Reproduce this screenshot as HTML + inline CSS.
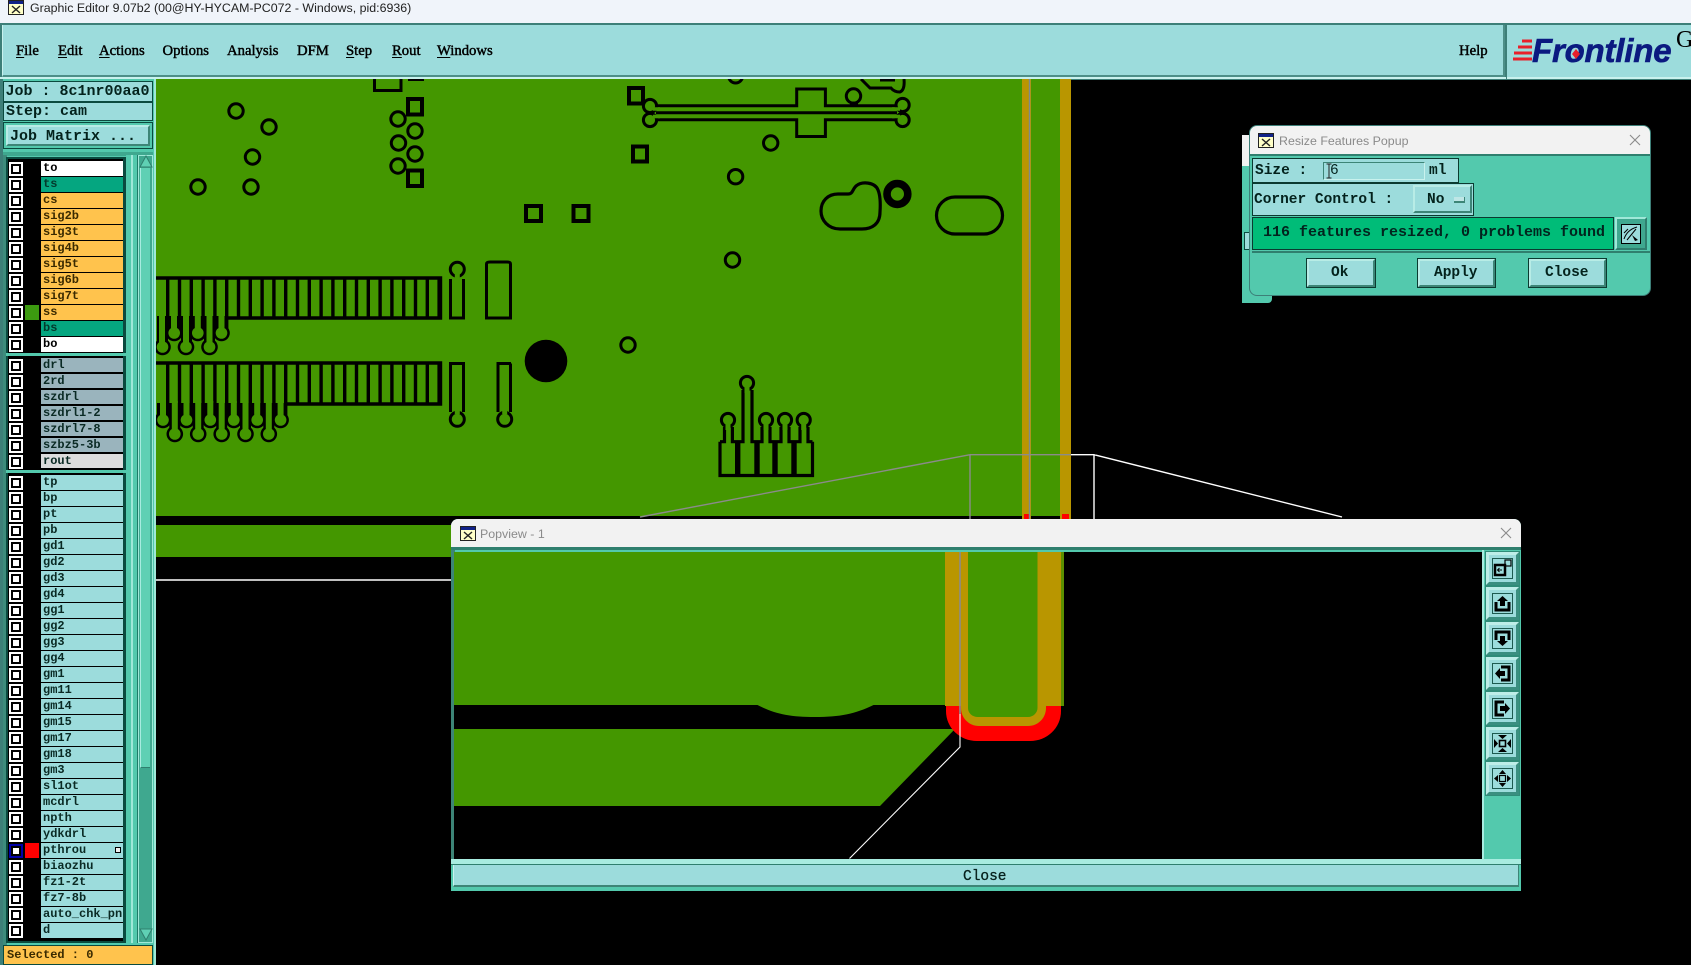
<!DOCTYPE html>
<html><head><meta charset="utf-8"><title>Graphic Editor</title>
<style>
html,body{margin:0;padding:0;background:#000;width:1691px;height:965px;overflow:hidden}
#w{position:relative;width:1691px;height:965px;overflow:hidden;background:#000;font-family:"Liberation Mono",monospace;color:#06201c}
#w div,#w span,#w svg{position:absolute;box-sizing:border-box}
.m{font:14.7px "Liberation Serif",serif;-webkit-text-stroke:.45px #000;color:#000;top:42px;line-height:18px;white-space:nowrap}
.m u{text-underline-offset:2px}
.ui{font:400 12.5px "Liberation Sans",sans-serif;white-space:nowrap}
.mono{font:700 15px/18px "Liberation Mono",monospace;white-space:nowrap;color:#03221c}
.mono2{font:700 14.5px/18px "Liberation Mono",monospace;white-space:nowrap;color:#03221c}
.bev{background:#9cdcdc;border:2px solid;border-color:#b8ece6 #3d8577 #3d8577 #b8ece6}
.r{left:8px;width:115px;height:16px;background:#000}
.r i{position:absolute;left:1px;top:1px;width:14px;height:14px;background:#fff;display:block}
.r i:before{content:"";position:absolute;left:2px;top:2px;width:10px;height:10px;box-sizing:border-box;border:2px solid #000;background:#fff}
.r b{position:absolute;box-sizing:border-box;left:33px;top:0;width:82px;height:14.6px;font:700 12px/14.6px "Liberation Mono",monospace;padding-left:2px;color:#0a2a24;background:#9cdcdc;overflow:hidden;white-space:nowrap}
.o{background:#ffc34d!important;color:#3a2a00!important}
.t{background:#05a680!important;color:#033a2c!important}
.wh{background:#fff!important;color:#000!important}
.g{background:#9ab4bd!important}
.pb{left:1486px;width:33px;height:33px;border:3px solid;border-color:#bdeee8 #3a8f80 #3a8f80 #bdeee8;background:#9cdcdc;outline:1px solid #2f8c78}
.pb:after{content:"";position:absolute;left:3px;top:3px;width:21px;height:21px;box-sizing:border-box;border:1px solid #1d5a50}
</style></head><body><div id="w">

<!-- title bar -->
<div style="left:0;top:0;width:1691px;height:24px;background:#f0f4fa"></div>
<svg style="left:8px;top:0" width="16" height="15"><rect x=".5" y=".5" width="15" height="14" fill="#ffffc8" stroke="#222"/><rect x="1" y="1" width="14" height="3" fill="#112288"/><path d="M4 6l8 7M12 6l-8 7" stroke="#222" stroke-width="1.4"/></svg>
<div class="ui" style="left:30px;top:0;height:16px;line-height:16px;color:#222;font-size:12.4px">Graphic Editor 9.07b2 (00@HY-HYCAM-PC072 - Windows, pid:6936)</div>

<!-- menu bar -->
<div style="left:0;top:23px;width:1691px;height:57px;background:#3d7f78"></div>
<div style="left:2px;top:25px;width:1503px;height:52px;background:#9cdcdc;border-left:1px solid #c9f2ee;border-right:2px solid #4d8f88;border-bottom:2px solid #4d8f88"></div>
<div style="left:1507px;top:25px;width:184px;height:54px;background:#9cdcdc;border-bottom:2px solid #c9f2ee"></div>
<div style="left:0;top:77px;width:1506px;height:2px;background:#c9f2ee"></div>
<div class="m" style="left:16px"><u>F</u>ile</div>
<div class="m" style="left:58px"><u>E</u>dit</div>
<div class="m" style="left:99px"><u>A</u>ctions</div>
<div class="m" style="left:162.5px">Options</div>
<div class="m" style="left:227px">Analysis</div>
<div class="m" style="left:297px">DFM</div>
<div class="m" style="left:346px"><u>S</u>tep</div>
<div class="m" style="left:392px"><u>R</u>out</div>
<div class="m" style="left:437px"><u>W</u>indows</div>
<div class="m" style="left:1459px">Help</div>
<svg style="left:1510px;top:36px" width="30" height="30"><path d="M12 5h10M8 11h14M4 17h18M3 23h19" stroke="#e8202a" stroke-width="3"/></svg>
<div style="left:1532px;top:31px;font:italic 700 33px/40px 'Liberation Sans',sans-serif;color:#0b1a80;-webkit-text-stroke:.6px #0b1a80;white-space:nowrap;letter-spacing:-.2px">Frontline</div>
<svg style="left:1570px;top:48px" width="12" height="12"><path d="M6 1l4 5-4 5-4-5z" fill="#e8202a"/></svg>
<div style="left:1676px;top:25px;font:24px/30px 'Liberation Serif',serif;color:#000">G</div>

<!-- PCB -->
<svg style="left:156px;top:79px" width="1300" height="520" viewBox="156 79 1300 520">
<rect x="156" y="79" width="915" height="437" fill="#449700"/>
<rect x="156" y="525" width="300" height="32" fill="#449700"/>
<rect x="1022" y="79" width="9" height="440" fill="#b99600"/>
<rect x="1060" y="79" width="11" height="440" fill="#b99600"/>
<rect x="1024" y="514" width="6" height="6" fill="#f00"/><rect x="1062" y="514" width="7" height="6" fill="#f00"/>
<path d="M1029.5 79V520" stroke="#7b8a90" stroke-width="1.4"/>
<path d="M156 580H452" stroke="#fff" stroke-width="1.5"/>
<g fill="none" stroke="#000" stroke-width="3">
<circle cx="236" cy="111" r="7.2"/><circle cx="269" cy="127" r="7.2"/><circle cx="252.5" cy="157" r="7.2"/><circle cx="198" cy="187" r="7.2"/><circle cx="251" cy="187" r="7.2"/>
<circle cx="398" cy="119" r="7.2"/><circle cx="415" cy="131" r="7.2"/><circle cx="398.5" cy="143" r="7.2"/><circle cx="415" cy="154" r="7.2"/><circle cx="398" cy="166" r="7.2"/>
<circle cx="770.7" cy="143" r="7.2"/><circle cx="735.6" cy="176.7" r="7.2"/><circle cx="732.5" cy="260" r="7.2"/><circle cx="628" cy="345" r="7.2"/><circle cx="853.5" cy="96" r="7.2"/><circle cx="735.6" cy="76" r="7"/>
<path stroke-width="3" d="M374.5 79V90.5H401V79M408 79.5H424"/>
<g stroke-width="4"><rect x="408" y="99" width="14" height="15.5"/><rect x="408" y="170.5" width="14" height="15.5"/><rect x="526" y="206" width="15" height="15"/><rect x="573.5" y="206" width="15" height="15"/><rect x="633" y="146.5" width="14" height="15"/><rect x="629" y="88" width="14" height="15.5"/></g>
<circle cx="897.4" cy="194" r="10.4" stroke-width="7.6"/>
<rect x="936.5" y="197" width="66" height="37" rx="18.5" stroke-width="3.2"/>
<path stroke-width="3.2" d="M838 194H848C853 194 852 190 856 186C862 181 875 182 878 190Q881 197 880 212C880 224 872 229 862 229H840C828 229 821 220 821 211C821 201 828 194 838 194Z"/>
<path stroke-width="3" d="M657 105.7H796.7V89H825.4V105.7H895.6M656 112.7H897M657 119.7H796.7V136.5H825.4V119.7H895.6"/>
<g stroke-width="3"><circle cx="650" cy="106" r="6.6"/><circle cx="650" cy="120" r="6.6"/><circle cx="902.6" cy="105" r="6.6"/><circle cx="902.6" cy="120" r="6.6"/></g>
<path stroke="#449700" stroke-width="3.6" d="M653 109H660M653 116.5H660M892 109H900M892 116.5H900"/>
<path stroke-width="3" d="M861 79L870 88H891Q894 92 900 92Q905 90 904 79M880 80H895"/>
<path stroke-width="4" d="M850 103.5H858"/>

<!-- connectors -->
<path stroke-width="3.4" d="M156 278H440.5V318H226.7M167.7 278V317M179.5 278V317M191.3 278V317M203.1 278V317M214.9 278V317M226.7 278V329M238.5 278V317M250.3 278V317M262.1 278V317M273.9 278V317M285.7 278V317M297.5 278V317M309.3 278V317M321.1 278V317M332.9 278V317M344.7 278V317M356.5 278V317M368.3 278V317M380.1 278V317M391.9 278V317M403.7 278V317M415.5 278V317M427.3 278V317M439.1 278V317"/>
<path stroke-width="3.4" d="M156 363H440.5V404H285M167.7 363V404M179.5 363V404M191.3 363V404M203.1 363V404M214.9 363V404M226.7 363V404M238.5 363V404M250.3 363V404M262.1 363V404M273.9 363V404M285.7 363V415M297.5 363V404M309.3 363V404M321.1 363V404M332.9 363V404M344.7 363V404M356.5 363V404M368.3 363V404M380.1 363V404M391.9 363V404M403.7 363V404M415.5 363V404M427.3 363V404M439.1 363V404"/>
</g>
<!-- fan-out pads: black mass, then green traces -->
<g fill="#000" stroke="none">
<rect x="157" y="316" width="71" height="13"/><rect x="157" y="403" width="130" height="12"/>
<rect x="157" y="316" width="11" height="31"/><rect x="181" y="316" width="11" height="31"/><rect x="204" y="316" width="11" height="31"/>
<circle cx="162.5" cy="347" r="8.3"/><circle cx="186" cy="347" r="8.3"/><circle cx="209.5" cy="347" r="8.3"/><circle cx="174.2" cy="333" r="8.3"/><circle cx="197.8" cy="333" r="8.3"/><circle cx="221.5" cy="333" r="8.3"/>
<rect x="169.3" y="403" width="11" height="31"/><rect x="192.7" y="403" width="11" height="31"/><rect x="216.2" y="403" width="11" height="31"/><rect x="240" y="403" width="11" height="31"/><rect x="263.3" y="403" width="11" height="31"/>
<circle cx="163" cy="420" r="8.3"/><circle cx="186.5" cy="420" r="8.3"/><circle cx="210.3" cy="420" r="8.3"/><circle cx="233.8" cy="420" r="8.3"/><circle cx="257.2" cy="420" r="8.3"/><circle cx="280.6" cy="420" r="8.3"/>
<circle cx="174.8" cy="434" r="8.3"/><circle cx="198.2" cy="434" r="8.3"/><circle cx="221.7" cy="434" r="8.3"/><circle cx="245.5" cy="434" r="8.3"/><circle cx="268.8" cy="434" r="8.3"/>
</g>
<g fill="#449700" stroke="none">
<rect x="159" y="314" width="6" height="33"/><rect x="183" y="314" width="6" height="33"/><rect x="206.5" y="314" width="6" height="33"/><rect x="171" y="314" width="6" height="19"/><rect x="194.8" y="314" width="6" height="19"/><rect x="218.5" y="314" width="6" height="19"/>
<circle cx="162.5" cy="347" r="5.8"/><circle cx="186" cy="347" r="5.8"/><circle cx="209.5" cy="347" r="5.8"/><circle cx="174.2" cy="333" r="5.8"/><circle cx="197.8" cy="333" r="5.8"/><circle cx="221.5" cy="333" r="5.8"/>
<rect x="160" y="401" width="6" height="19"/><rect x="183.5" y="401" width="6" height="19"/><rect x="207.3" y="401" width="6" height="19"/><rect x="230.8" y="401" width="6" height="19"/><rect x="254.2" y="401" width="6" height="19"/><rect x="277.6" y="401" width="6" height="19"/>
<rect x="171.8" y="401" width="6" height="33"/><rect x="195.2" y="401" width="6" height="33"/><rect x="218.7" y="401" width="6" height="33"/><rect x="242.5" y="401" width="6" height="33"/><rect x="265.8" y="401" width="6" height="33"/>
<circle cx="163" cy="420" r="5.8"/><circle cx="186.5" cy="420" r="5.8"/><circle cx="210.3" cy="420" r="5.8"/><circle cx="233.8" cy="420" r="5.8"/><circle cx="257.2" cy="420" r="5.8"/><circle cx="280.6" cy="420" r="5.8"/>
<circle cx="174.8" cy="434" r="5.8"/><circle cx="198.2" cy="434" r="5.8"/><circle cx="221.7" cy="434" r="5.8"/><circle cx="245.5" cy="434" r="5.8"/><circle cx="268.8" cy="434" r="5.8"/>
</g>
<g fill="none" stroke="#000" stroke-width="3">
<path d="M450.5 318V279M463.5 318V279M449 318H465"/><circle cx="457.3" cy="269.3" r="7"/>
<path d="M486.5 318V264Q486.5 262 490 262H507Q510.5 262 510.5 264V318M485 318H512"/>
<path d="M450.5 403V363.5H463.5V403M496.5 363.5H511M463.5 403V412M498 403V363.5M510.5 363.5V412M450.5 403V412M498 403V412"/>
<circle cx="457.3" cy="419.3" r="7"/><circle cx="504.7" cy="419.3" r="7"/>
<path stroke="#449700" stroke-width="5" d="M457.3 274V281M457.3 405V414M504.7 405V414"/>
<path stroke-width="3.2" d="M720 441.7V475.5H812.5V441.7M720 441.7H724.5V427M732.4 427V441.7H743V390M752 390V441.7H762V427M770 427V441.7H781V427M789 427V441.7H800V427M808 427V441.7H812.5"/>
<path stroke-width="5.4" d="M737.7 441V476M757 441V476M775 441V476M794 441V476"/>
<circle cx="728" cy="420" r="6.6"/><circle cx="747" cy="383" r="6.6"/><circle cx="766" cy="420" r="6.6"/><circle cx="785" cy="420" r="6.6"/><circle cx="803.7" cy="420" r="6.6"/>
<path stroke="#449700" stroke-width="5" d="M728 424V430M747 387V393M766 424V430M785 424V430M803.7 424V430"/>
</g>
<circle cx="546" cy="361" r="21.3" fill="#000"/>
<!-- magnifier guide lines -->
<path d="M640 517L970 454.7V520M970 454.7H1071" stroke="#8b8b8b" stroke-width="1.4" fill="none"/>
<path d="M1071 454.7H1094V520M1094 454.7L1342 517" stroke="#fff" stroke-width="1.4" fill="none"/>
</svg>

<!-- left panel -->
<div style="left:0;top:79px;width:156px;height:886px;background:#53c9ad;border-left:3px solid #3d7f78;border-right:2px solid #9fe8d8"></div>
<div style="left:3px;top:81px;width:150px;height:21px;background:#9cdcdc;border:1.5px solid #0b4a3f"></div>
<div class="mono" style="left:5.5px;top:83px;font-weight:700">Job : 8c1nr00aa0</div>
<div style="left:3px;top:102px;width:150px;height:19px;background:#9cdcdc;border:1.5px solid #0b4a3f"></div>
<div class="mono" style="left:6px;top:102.5px">Step: cam</div>
<div style="left:3px;top:122px;width:150px;height:27px;background:#53c9ad;border:1.5px solid #0b4a3f"></div>
<div class="bev" style="left:6px;top:125px;width:144px;height:21px"></div>
<div class="mono" style="left:10px;top:127.5px">Job Matrix ...</div>

<div style="left:3px;top:152px;width:150px;height:4px;background:#3fa88f"></div>
<div style="left:3px;top:155px;width:4px;height:790px;background:#3d8c7c"></div>
<div style="left:6px;top:157px;width:120px;height:786px;background:#0a4a3f"></div>
<div style="left:8px;top:159px;width:115px;height:782px;background:#000"></div>

<div class="r" style="top:161px"><i></i><b class="wh">to</b></div>
<div class="r" style="top:177px"><i></i><b class="t">ts</b></div>
<div class="r" style="top:193px"><i></i><b class="o">cs</b></div>
<div class="r" style="top:209px"><i></i><b class="o">sig2b</b></div>
<div class="r" style="top:225px"><i></i><b class="o">sig3t</b></div>
<div class="r" style="top:241px"><i></i><b class="o">sig4b</b></div>
<div class="r" style="top:257px"><i></i><b class="o">sig5t</b></div>
<div class="r" style="top:273px"><i></i><b class="o">sig6b</b></div>
<div class="r" style="top:289px"><i></i><b class="o">sig7t</b></div>
<div class="r" style="top:305px"><i></i><span style="left:17px;top:0;width:14px;height:14.6px;background:#3c9a10"></span><b class="o">ss</b></div>
<div class="r" style="top:321px"><i></i><b class="t">bs</b></div>
<div class="r" style="top:337px"><i></i><b class="wh">bo</b></div>
<div style="left:6px;top:353px;width:120px;height:3px;background:#53c9ad"></div>
<div class="r" style="top:357.5px"><i></i><b class="g">drl</b></div>
<div class="r" style="top:373.5px"><i></i><b class="g">2rd</b></div>
<div class="r" style="top:389.5px"><i></i><b class="g">szdrl</b></div>
<div class="r" style="top:405.5px"><i></i><b class="g">szdrl1-2</b></div>
<div class="r" style="top:421.5px"><i></i><b class="g">szdrl7-8</b></div>
<div class="r" style="top:437.5px"><i></i><b class="g">szbz5-3b</b></div>
<div class="r" style="top:453.5px"><i></i><b style="background:#dcdcdc">rout</b></div>
<div style="left:6px;top:470px;width:120px;height:3px;background:#53c9ad"></div>
<div class="r" style="top:475px"><i></i><b>tp</b></div>
<div class="r" style="top:491px"><i></i><b>bp</b></div>
<div class="r" style="top:507px"><i></i><b>pt</b></div>
<div class="r" style="top:523px"><i></i><b>pb</b></div>
<div class="r" style="top:539px"><i></i><b>gd1</b></div>
<div class="r" style="top:555px"><i></i><b>gd2</b></div>
<div class="r" style="top:571px"><i></i><b>gd3</b></div>
<div class="r" style="top:587px"><i></i><b>gd4</b></div>
<div class="r" style="top:603px"><i></i><b>gg1</b></div>
<div class="r" style="top:619px"><i></i><b>gg2</b></div>
<div class="r" style="top:635px"><i></i><b>gg3</b></div>
<div class="r" style="top:651px"><i></i><b>gg4</b></div>
<div class="r" style="top:667px"><i></i><b>gm1</b></div>
<div class="r" style="top:683px"><i></i><b>gm11</b></div>
<div class="r" style="top:699px"><i></i><b>gm14</b></div>
<div class="r" style="top:715px"><i></i><b>gm15</b></div>
<div class="r" style="top:731px"><i></i><b>gm17</b></div>
<div class="r" style="top:747px"><i></i><b>gm18</b></div>
<div class="r" style="top:763px"><i></i><b>gm3</b></div>
<div class="r" style="top:779px"><i></i><b>sl1ot</b></div>
<div class="r" style="top:795px"><i></i><b>mcdrl</b></div>
<div class="r" style="top:811px"><i></i><b>npth</b></div>
<div class="r" style="top:827px"><i></i><b>ydkdrl</b></div>
<div class="r" style="top:843px"><i style="background:#0000a8"></i><span style="left:17px;top:0;width:14px;height:14.6px;background:#f00"></span><b>pthrou<span style="left:74px;top:4px;width:6px;height:6px;border:1px solid #000;background:#eee"></span></b></div>
<div class="r" style="top:859px"><i></i><b>biaozhu</b></div>
<div class="r" style="top:875px"><i></i><b>fz1-2t</b></div>
<div class="r" style="top:891px"><i></i><b>fz7-8b</b></div>
<div class="r" style="top:907px"><i></i><b>auto_chk_pn1</b></div>
<div class="r" style="top:923px"><i></i><b>d</b></div>

<!-- scrollbar -->
<div style="left:126px;top:155px;width:7px;height:788px;background:#53c9ad;border-right:2px solid #9fe8d8"></div>
<div style="left:133px;top:155px;width:5px;height:788px;background:#53c9ad;border-right:1px solid #1f7a68"></div>
<div style="left:138px;top:155px;width:15px;height:788px;background:#3fa88f;border:1px solid #9fe8d8"></div>
<div style="left:140px;top:168px;width:10px;height:600px;background:#5fd0b4;border-bottom:1.5px solid #2f7f6e;border-left:1px solid #a8ece0"></div>
<svg style="left:139px;top:155px" width="14" height="13"><path d="M7 1L13 12H1Z" fill="#5fd0b4" stroke="#2f7f6e"/></svg>
<svg style="left:139px;top:928px" width="14" height="13"><path d="M7 12L13 1H1Z" fill="#5fd0b4" stroke="#2f7f6e"/></svg>

<div style="left:3px;top:945px;width:150px;height:20px;background:#ffc34d;border:1.5px solid #0b4a3f"></div>
<div style="left:7px;top:946px;font:700 12px/18px 'Liberation Mono',monospace;color:#3a2a00">Selected : 0</div>

<!-- Resize popup: sliver behind -->
<div style="left:1242px;top:135px;width:10px;height:31px;background:#f2f2f2"></div>
<div style="left:1242px;top:166px;width:30px;height:137px;background:#53c9ad;border-radius:0 0 4px 0"></div>
<div style="left:1244px;top:232px;width:6px;height:18px;background:#9cdcdc;border:1px solid #0b4a3f"></div>

<!-- Resize popup -->
<div style="left:1250px;top:126px;width:400px;height:169px;background:#53c9ad;border-radius:7px;overflow:hidden;box-shadow:0 0 0 1px #3d7f78">
 <div style="left:0;top:0;width:400px;height:30px;background:#f2f2f2;border-bottom:2px solid #2f7f6e"></div>
</div>
<svg style="left:1258px;top:133px" width="16" height="15"><rect x=".5" y=".5" width="15" height="14" fill="#ffffc8" stroke="#222"/><rect x="1" y="1" width="14" height="3" fill="#112288"/><path d="M4 6l8 7M12 6l-8 7" stroke="#222" stroke-width="1.4"/></svg>
<div class="ui" style="left:1279px;top:132px;line-height:18px;color:#8a8a8a;font-size:12.4px">Resize Features Popup</div>
<svg style="left:1629px;top:134px" width="12" height="12"><path d="M1 1l10 10M11 1L1 11" stroke="#8a8a8a" stroke-width="1.1"/></svg>

<div style="left:1252px;top:158px;width:207px;height:25px;background:#9cdcdc;border:1.5px solid #0b3a30"></div>
<div class="mono2" style="left:1255px;top:162px">Size :</div>
<div style="left:1323px;top:162px;width:102px;height:18px;background:#9cdcdc;border:1.5px solid;border-color:#3d8577 #c9f2ee #c9f2ee #3d8577"></div>
<div class="mono2" style="left:1330px;top:162px;font-weight:400">6</div>
<svg style="left:1325px;top:162px" width="8" height="18"><path d="M1.5 2h5M4 2v14M1.5 16h5" stroke="#222" fill="none" stroke-width="1"/></svg>
<div class="mono2" style="left:1429px;top:162px">ml</div>

<div style="left:1252px;top:183px;width:222px;height:33px;background:#9cdcdc;border:1.5px solid #0b3a30"></div>
<div class="mono2" style="left:1254px;top:191px">Corner Control :</div>
<div class="bev" style="left:1413px;top:185px;width:59px;height:28px"></div>
<div class="mono2" style="left:1427px;top:191px">No</div>
<div style="left:1454px;top:197px;width:11px;height:6px;background:#bfe6e6;border-bottom:2px solid #3d8577;border-right:1px solid #3d8577"></div>

<div style="left:1252px;top:217px;width:362px;height:33px;background:#00bc78;border:1.5px solid #0b3a30"></div>
<div class="mono" style="left:1263px;top:224px;color:#02241e">116 features resized, 0 problems found</div>
<div style="left:1615px;top:217px;width:32px;height:33px;background:#3fa88f;border:2px solid;border-color:#9fe8d8 #2f7f6e #2f7f6e #9fe8d8"></div>
<div style="left:1621px;top:224px;width:20px;height:20px;background:#9cdcdc;border:1.5px solid #000"></div>
<svg style="left:1621px;top:224px" width="20" height="20"><path d="M3 15C5 9 9 5 16 3M6 16L15 5M7 5L3 9" stroke="#000" fill="none"/><path d="M11 11l6 5-3 1z" fill="#000"/></svg>

<div style="left:1252px;top:251px;width:398px;height:2px;background:#2f7f6e"></div>
<div class="bev" style="left:1307px;top:259px;width:68px;height:28px;outline:1.5px solid #0b3a30"></div>
<div class="mono2" style="left:1331px;top:264px">Ok</div>
<div class="bev" style="left:1418px;top:259px;width:77px;height:28px;outline:1.5px solid #0b3a30"></div>
<div class="mono2" style="left:1434px;top:264px">Apply</div>
<div class="bev" style="left:1529px;top:259px;width:77px;height:28px;outline:1.5px solid #0b3a30"></div>
<div class="mono2" style="left:1545px;top:264px">Close</div>

<!-- Popview window -->
<div style="left:451px;top:519px;width:1070px;height:372px;background:#53c9ad;border-radius:7px 7px 3px 3px;overflow:hidden">
 <div style="left:0;top:0;width:1070px;height:31px;background:#f2f2f2;border-bottom:3px solid #2f7f6e"></div>
</div>
<svg style="left:460px;top:526px" width="16" height="15"><rect x=".5" y=".5" width="15" height="14" fill="#ffffc8" stroke="#222"/><rect x="1" y="1" width="14" height="3" fill="#112288"/><path d="M4 6l8 7M12 6l-8 7" stroke="#222" stroke-width="1.4"/></svg>
<div class="ui" style="left:480px;top:525px;line-height:18px;color:#8a8a8a;font-size:12.4px">Popview - 1</div>
<svg style="left:1500px;top:527px" width="12" height="12"><path d="M1 1l10 10M11 1L1 11" stroke="#8a8a8a" stroke-width="1.1"/></svg>

<div style="left:451px;top:550px;width:4px;height:310px;background:#3d8577"></div>
<svg style="left:454px;top:552px" width="1028" height="307" viewBox="454 552 1028 307">
<rect x="454" y="552" width="1028" height="307" fill="#000"/>
<path d="M454 552H946V705H873.5C855 714 840 717 815 717C790 717 775 714 757.5 705H454Z" fill="#449700"/>
<path d="M454 729H955L880 806H454Z" fill="#449700"/>
<rect x="1061" y="552" width="3" height="154" fill="#5c9000"/>
<rect x="945" y="552" width="116" height="154" fill="#b99600"/>
<path d="M946 706H1061V711C1061 728 1047 741 1030 741H977C960 741 946 728 946 711Z" fill="#f00"/>
<path d="M961 706H1046V708C1046 718 1038 726 1028 726H979C969 726 961 718 961 708Z" fill="#b99600"/>
<path d="M968 552H1037.5V708C1037.5 713 1033 717 1028 717H978C972 717 968 713 968 708Z" fill="#449700"/>
<path d="M960 552V714" stroke="#8b8b8b" stroke-width="1.6"/>
<path d="M960 714V747L849.5 858.5" stroke="#fff" stroke-width="1.1" fill="none"/>
</svg>

<div style="left:1482px;top:550px;width:2px;height:310px;background:#a8ece0"></div>
<div class="pb" style="top:552px"></div>
<svg style="left:1490px;top:556px" width="25" height="25"><rect x="5" y="9" width="10" height="10" fill="none" stroke="#000" stroke-width="2.5"/><rect x="15" y="4" width="6" height="6" fill="none" stroke="#000" stroke-width="1.2"/><path d="M12 14H8M9.5 12l-2 2 2 2" stroke="#000" fill="none"/></svg>
<div class="pb" style="top:587px"></div>
<svg style="left:1490px;top:591px" width="25" height="25"><path d="M6 11V19H19V11" stroke="#000" fill="none" stroke-width="3"/><path d="M12.5 5L18 10H15V15H10V10H7Z" fill="#000"/></svg>
<div class="pb" style="top:622px"></div>
<svg style="left:1490px;top:626px" width="25" height="25"><path d="M6 14V6H19V14" stroke="#000" fill="none" stroke-width="3"/><path d="M12.5 20L18 15H15V10H10V15H7Z" fill="#000"/></svg>
<div class="pb" style="top:657px"></div>
<svg style="left:1490px;top:661px" width="25" height="25"><path d="M11 6H19V19H11" stroke="#000" fill="none" stroke-width="3"/><path d="M5 12.5L10 7V10H15V15H10V18Z" fill="#000"/></svg>
<div class="pb" style="top:692px"></div>
<svg style="left:1490px;top:696px" width="25" height="25"><path d="M14 6H6V19H14" stroke="#000" fill="none" stroke-width="3"/><path d="M20 12.5L15 7V10H10V15H15V18Z" fill="#000"/></svg>
<div class="pb" style="top:727px"></div>
<svg style="left:1490px;top:731px" width="25" height="25"><rect x="9.5" y="9.5" width="6" height="6" fill="none" stroke="#000" stroke-width="1.6"/><path d="M12.5 8L8 4H17ZM12.5 17L8 21H17ZM8 12.5L4 8V17ZM17 12.5L21 8V17Z" fill="#000"/></svg>
<div class="pb" style="top:762px"></div>
<svg style="left:1490px;top:766px" width="25" height="25"><rect x="9.5" y="9.5" width="6" height="6" fill="none" stroke="#000" stroke-width="1.2"/><path d="M12.5 4L16 8H9ZM12.5 21L16 17H9ZM4 12.5L8 9V16ZM21 12.5L17 9V16Z" fill="#000"/></svg>

<div style="left:451px;top:859px;width:1070px;height:6px;background:#a8ece0;border-bottom:1px solid #2f7f6e"></div>
<div style="left:453px;top:865px;width:1066px;height:22px;background:#9cdcdc;border-left:1.5px solid #c9f2ee;border-right:1.5px solid #3d8577;border-bottom:2px solid #3d8577"></div>
<div style="left:451px;top:887px;width:1070px;height:4px;background:#53c9ad"></div>
<div style="left:963px;top:868px;font:400 14.5px/18px 'Liberation Mono',monospace;color:#06201c;-webkit-text-stroke:.3px #06201c">Close</div>
</div></body></html>
